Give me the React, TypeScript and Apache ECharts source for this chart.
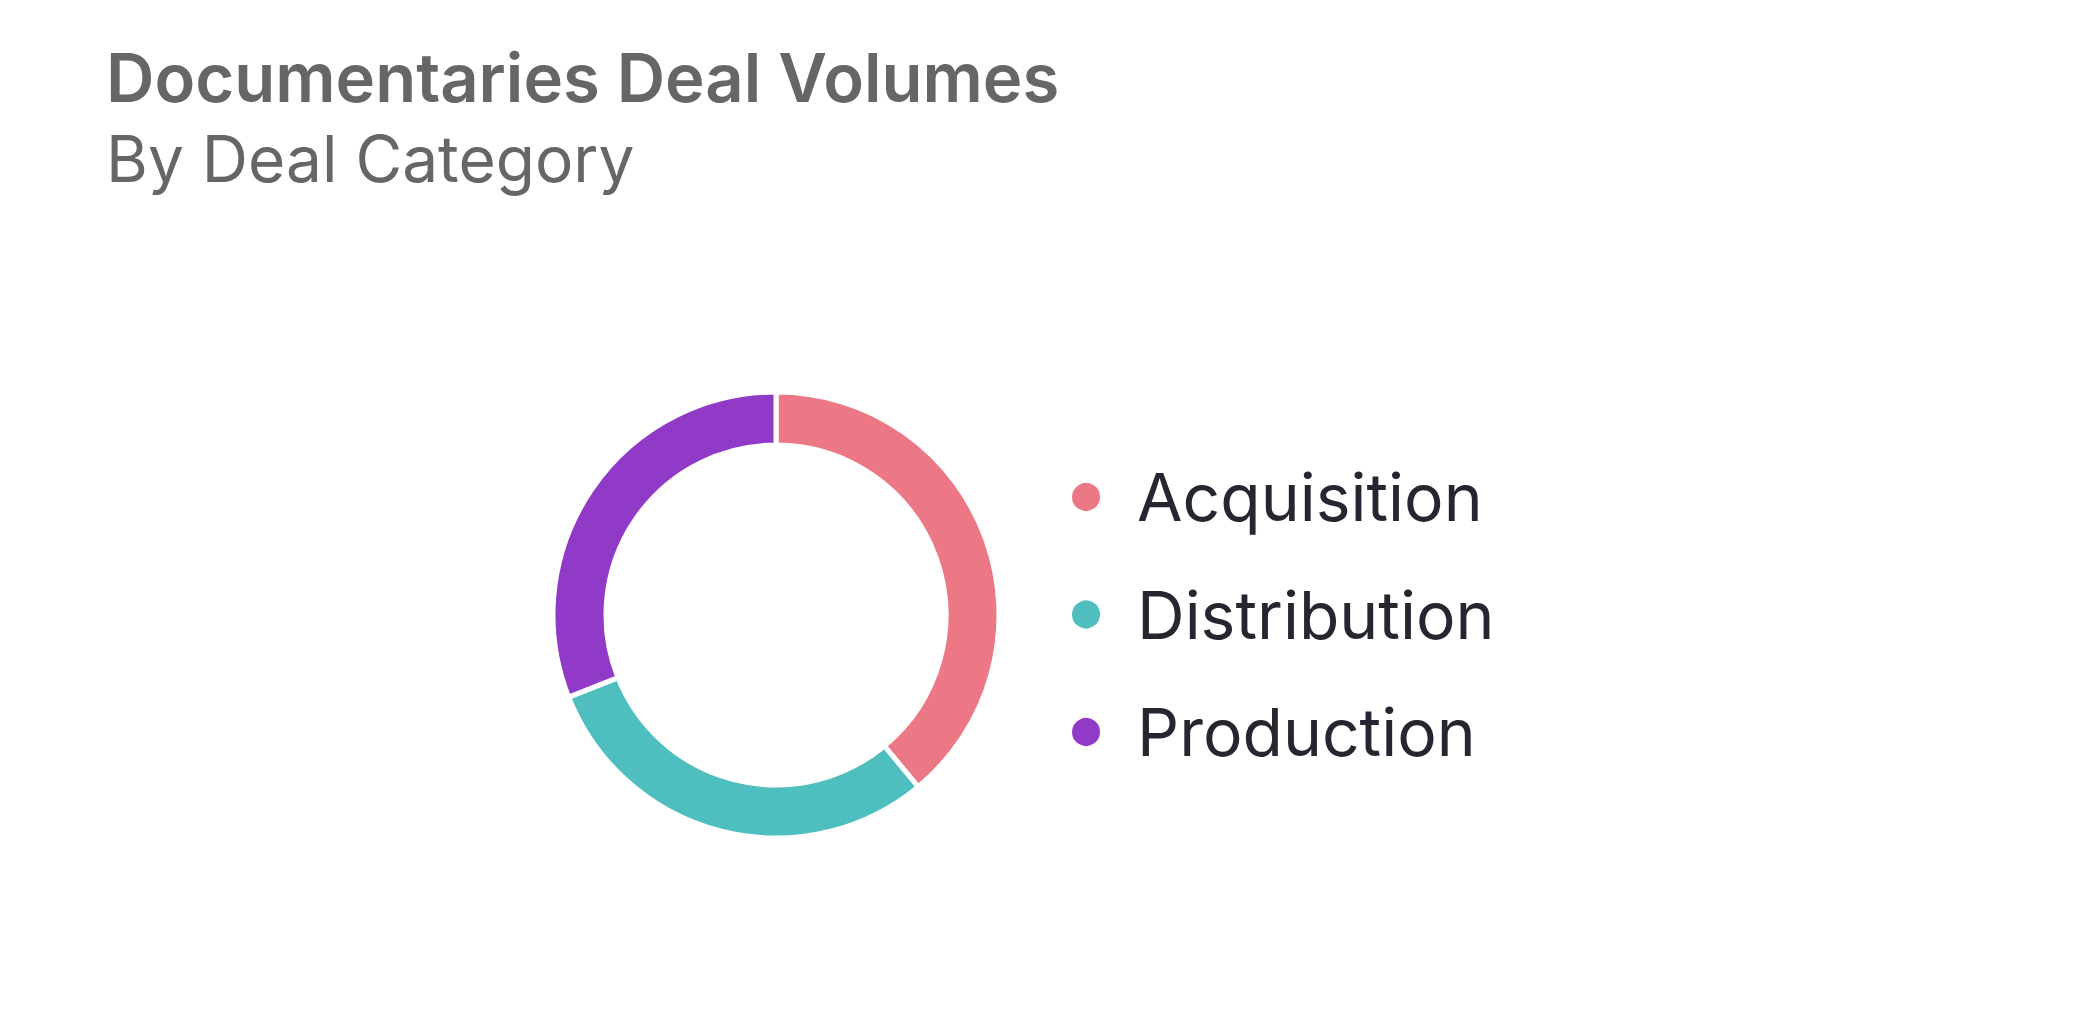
import React, { useEffect, useRef } from "react";
import * as echarts from "echarts";

const categories = ["Acquisition", "Distribution", "Production"];
const values = [39, 30, 31];
const colors = ["#EC7885", "#4EBEBE", "#913AC8"];
const titleText = "Documentaries Deal Volumes";
const subtitleText = "By Deal Category";

export default function App() {
  const ref = useRef<HTMLDivElement>(null);
  useEffect(() => {
    if (!ref.current) return;
    const chart = echarts.init(ref.current, undefined, { renderer: "svg" });
    chart.setOption({
      animation: false,
      backgroundColor: "#ffffff",
      title: [
        {
          text: titleText,
          left: 101,
          top: 39,
          textStyle: {
            fontFamily: "Inter",
            fontWeight: 600,
            fontSize: 67,
            color: "#666666",
          },
        },
        {
          text: subtitleText,
          left: 101,
          top: 121,
          textStyle: {
            fontFamily: "Inter",
            fontWeight: 400,
            fontSize: 64,
            color: "#666666",
          },
        },
      ],
      legend: {
        orient: "vertical",
        left: 1065,
        top: 457,
        icon: "circle",
        itemWidth: 30,
        itemHeight: 30,
        itemGap: 47.5,
        data: categories,
        textStyle: {
          fontFamily: "Inter",
          fontSize: 66,
          lineHeight: 70,
          color: "#262630",
          padding: [0, 0, 0, 31],
        },
      },
      series: [
        {
          type: "pie",
          center: [776, 615],
          radius: [170, 223],
          startAngle: 90,
          clockwise: true,
          label: { show: false },
          labelLine: { show: false },
          emphasis: { disabled: true },
          itemStyle: { borderColor: "#ffffff", borderWidth: 5 },
          data: categories.map((c, i) => ({
            name: c,
            value: values[i],
            itemStyle: { color: colors[i] },
          })),
        },
      ],
    });
    return () => chart.dispose();
  }, []);
  return (
    <div
      ref={ref}
      style={{ position: "fixed", left: 0, top: 0, width: "2080px", height: "1034px" }}
    />
  );
}
